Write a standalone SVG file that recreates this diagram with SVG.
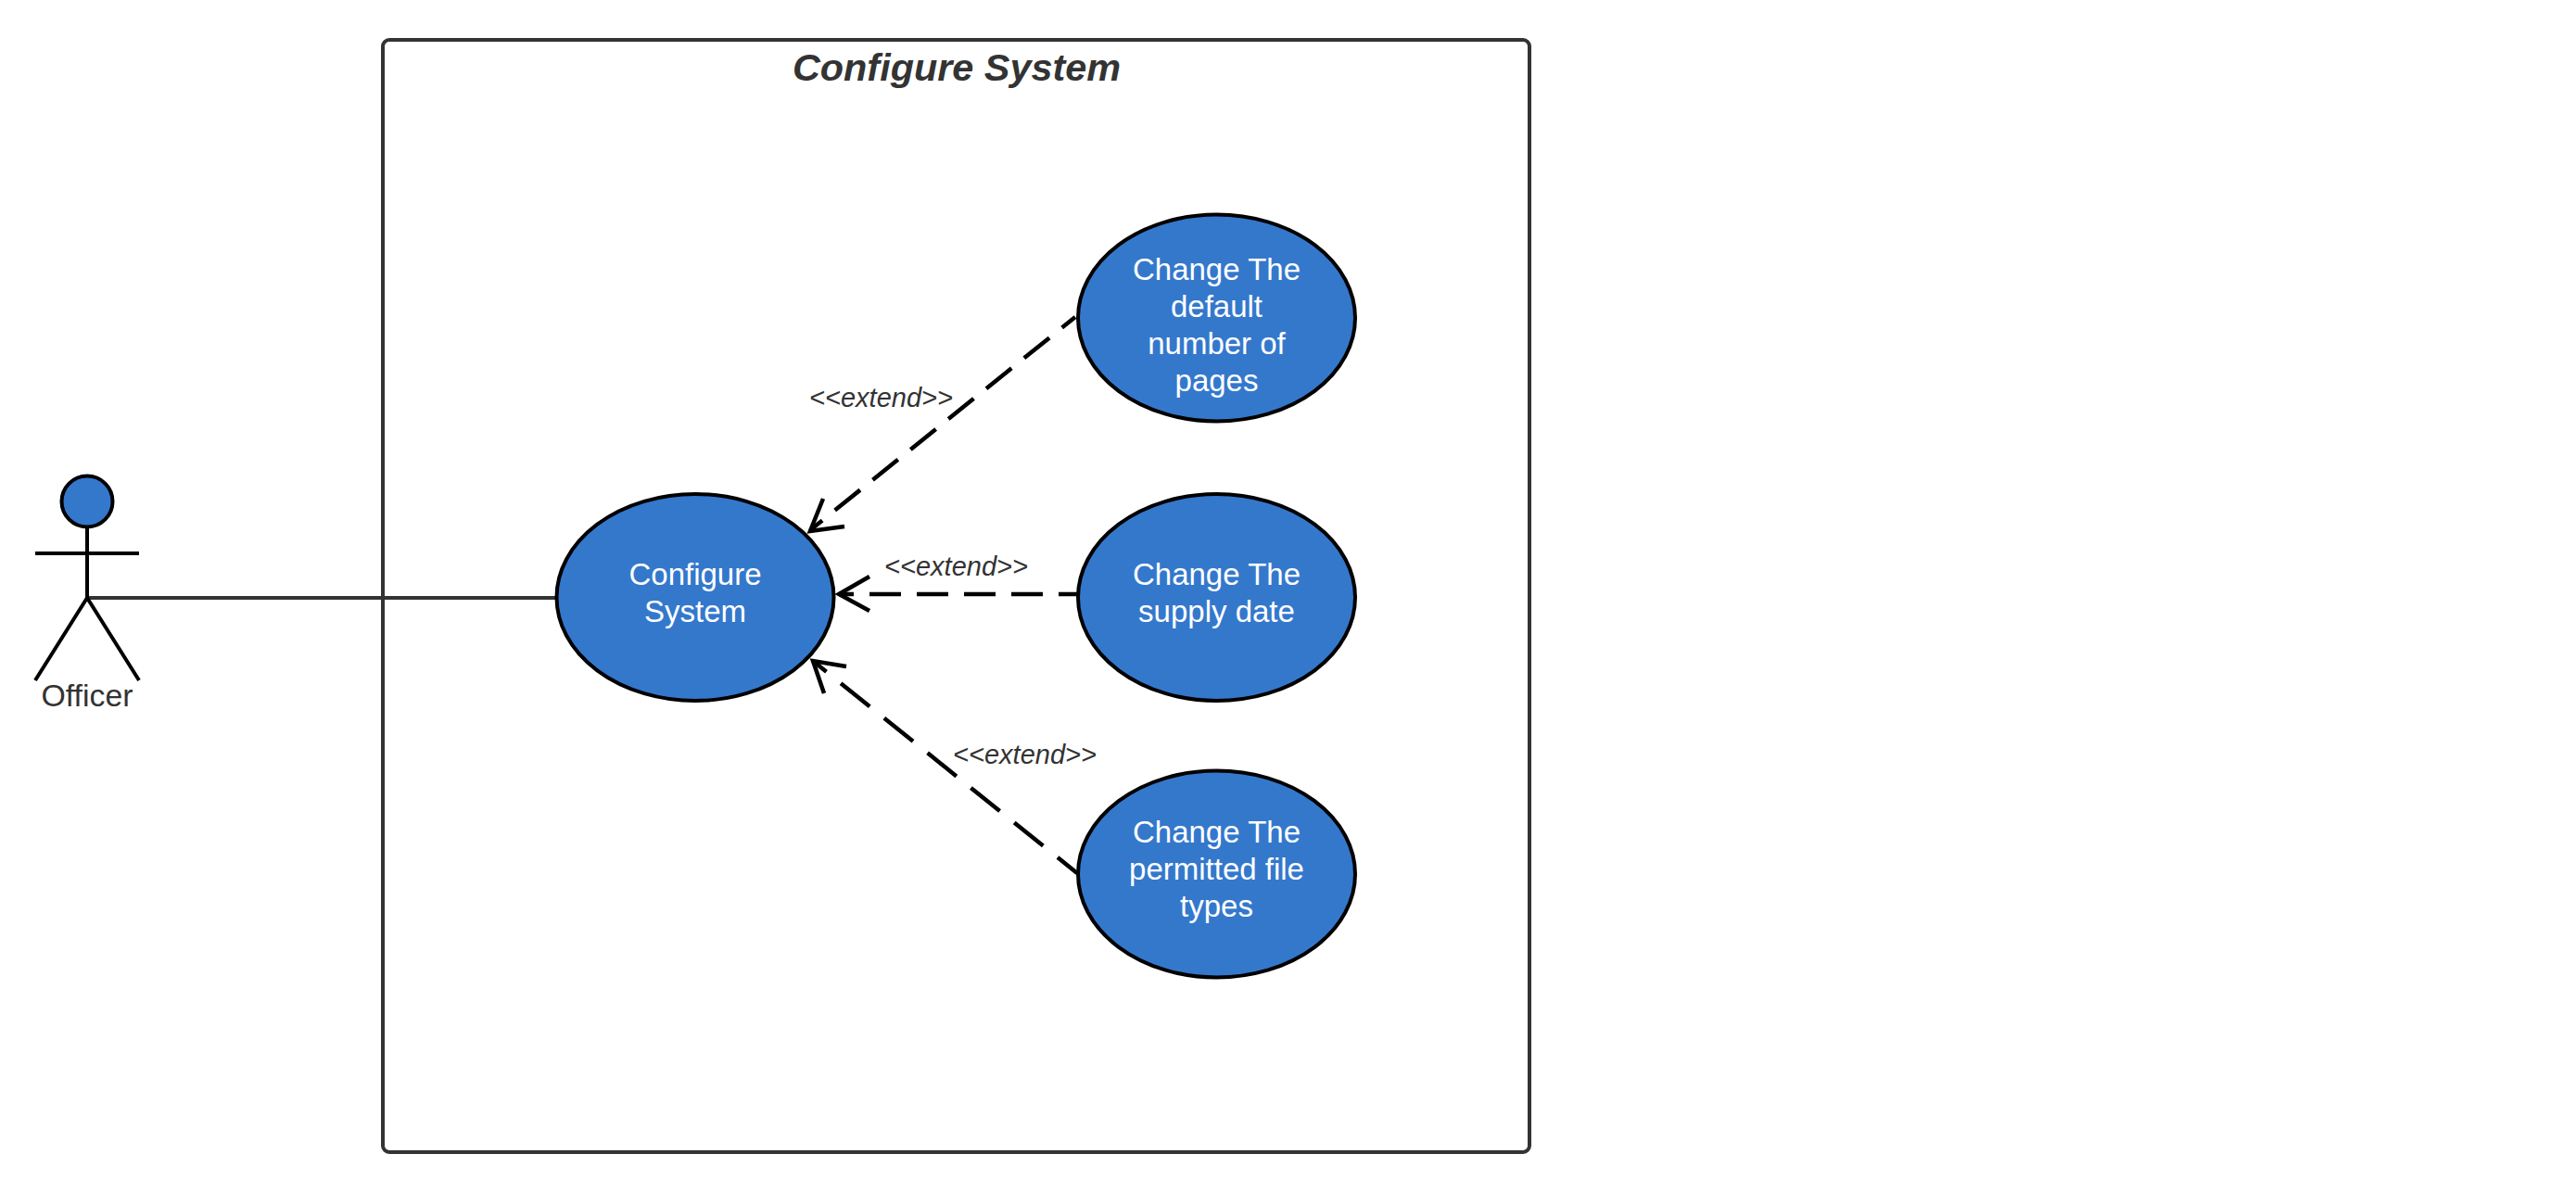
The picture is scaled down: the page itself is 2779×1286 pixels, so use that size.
<svg xmlns="http://www.w3.org/2000/svg" width="2779" height="1286" viewBox="0 0 2779 1286">
<style>
text{font-family:"Liberation Sans",Arial,sans-serif;text-anchor:middle}
.uc{fill:#3478cc;stroke:#000;stroke-width:4}
.ut{fill:#fff;font-size:33px}
.lab{fill:#333;font-size:29px;font-style:italic}
.dash{fill:none;stroke:#000;stroke-width:4.500;stroke-dasharray:34 17}
.head{fill:none;stroke:#000;stroke-width:4.500}
.act{fill:none;stroke:#000;stroke-width:4}
</style>
<rect width="2779" height="1286" fill="#fff"/>
<g id="boundary">
<rect x="413" y="43" width="1237" height="1200" rx="7" fill="#fff" stroke="#333" stroke-width="4"/>
<text x="1032" y="87" fill="#333" font-size="41.400" font-weight="bold" font-style="italic">Configure System</text>
</g>
<g id="connectors">
<path d="M94 645H600" fill="none" stroke="#333" stroke-width="4"/>
<path class="dash" style="stroke-dasharray:35 17.400" stroke-dashoffset="16.600" d="M1160 342L874 572"/>
<path class="head" d="M888 538L874 573L911 568"/>
<path class="dash" stroke-dashoffset="14" d="M1162 641H905"/>
<path class="head" d="M938 622L905 641L938 659"/>
<path class="dash" style="stroke-dasharray:40 20" stroke-dashoffset="13" d="M1162 942L877 713"/>
<path class="head" d="M913 719L877 713L889 748"/>
<text class="lab" x="950.500" y="438.500">&lt;&lt;extend&gt;&gt;</text>
<text class="lab" x="1031.500" y="621">&lt;&lt;extend&gt;&gt;</text>
<text class="lab" x="1105.500" y="823.500">&lt;&lt;extend&gt;&gt;</text>
</g>
<g id="officer">
<ellipse cx="94" cy="541" rx="27.500" ry="27.500" class="uc"/>
<path class="act" d="M94 569V645M38 597H150M38 734L94 645L150 734"/>
<text x="94" y="762" fill="#333" font-size="33.800">Officer</text>
</g>
<g id="uc-configure">
<ellipse class="uc" cx="750" cy="644.500" rx="149.500" ry="111.500"/>
<text class="ut" x="750" y="631">Configure</text>
<text class="ut" x="750" y="671">System</text>
</g>
<g id="uc-pages">
<ellipse class="uc" cx="1312.500" cy="343" rx="149.500" ry="111.500"/>
<text class="ut" x="1312.500" y="302">Change The</text>
<text class="ut" x="1312.500" y="342">default</text>
<text class="ut" x="1312.500" y="382">number of</text>
<text class="ut" x="1312.500" y="422">pages</text>
</g>
<g id="uc-supply">
<ellipse class="uc" cx="1312.500" cy="644.500" rx="149.500" ry="111.500"/>
<text class="ut" x="1312.500" y="631">Change The</text>
<text class="ut" x="1312.500" y="671">supply date</text>
</g>
<g id="uc-types">
<ellipse class="uc" cx="1312.500" cy="943" rx="149.500" ry="111.500"/>
<text class="ut" x="1312.500" y="909">Change The</text>
<text class="ut" x="1312.500" y="949">permitted file</text>
<text class="ut" x="1312.500" y="989">types</text>
</g>
</svg>
